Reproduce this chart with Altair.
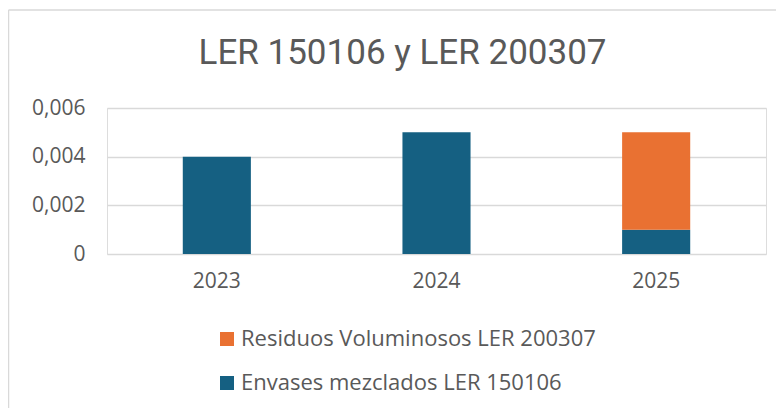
import altair as alt
import pandas as pd

years = ["2023", "2024", "2025"]
envases = [0.004, 0.005, 0.001]
residuos = [0.0, 0.0, 0.004]
series = ["Residuos Voluminosos LER 200307", "Envases mezclados LER 150106"]
colors = ["#E97132", "#156082"]

rows = []
for y, e, r in zip(years, envases, residuos):
    rows.append({"year": y, "serie": series[1], "value": e, "ord": 0})
    rows.append({"year": y, "serie": series[0], "value": r, "ord": 1})
df = pd.DataFrame(rows)

TXT = "#595959"
FONT = "Open Sans"

bars = alt.Chart(df).mark_bar().encode(
    x=alt.X("year:N", title=None,
            scale=alt.Scale(paddingInner=0.69, paddingOuter=0.345),
            axis=alt.Axis(labelAngle=0, ticks=False, domain=False, labelPadding=16,
                          labelFontSize=21, labelColor=TXT, labelFont=FONT, grid=False)),
    y=alt.Y("value:Q", title=None, stack="zero",
            scale=alt.Scale(domain=[0, 0.006], nice=False),
            axis=alt.Axis(values=[0, 0.002, 0.004, 0.006], ticks=False, domain=False,
                          labelExpr="datum.value == 0 ? '0' : replace(format(datum.value, '.3f'), '.', ',')",
                          labelPadding=22, labelFontSize=21, labelColor=TXT, labelFont=FONT,
                          gridColor="#D9D9D9", gridWidth=1.5)),
    color=alt.Color("serie:N", title=None,
                    scale=alt.Scale(domain=series, range=colors),
                    legend=alt.Legend(orient="none", legendX=109, legendY=220, direction="vertical",
                                      symbolType="square", symbolSize=196, symbolStrokeWidth=0,
                                      labelFontSize=22, labelColor=TXT, labelFont=FONT,
                                      rowPadding=22, labelOffset=3, labelLimit=600)),
    order=alt.Order("ord:Q", sort="ascending"),
)

border = alt.Chart(pd.DataFrame({"a": [0]})).mark_rule(color="#D9D9D9", strokeWidth=1.5).encode(
    x=alt.value(-98.5), y=alt.value(-98), y2=alt.value(310)
)
border_top = alt.Chart(pd.DataFrame({"a": [0]})).mark_rule(color="#D9D9D9", strokeWidth=1.5).encode(
    x=alt.value(-98.5), x2=alt.value(680), y=alt.value(-98)
)

chart = alt.layer(bars, border, border_top).properties(
    width=659, height=146,
    title=alt.TitleParams("LER 150106 y LER 200307", fontSize=35, font="Roboto",
                          fontWeight="normal", color=TXT, anchor="middle", offset=-62, dx=-34),
    padding={"left": 99, "top": 100, "right": 10, "bottom": 154},
    autosize=alt.AutoSizeParams(type="none"),
).configure_view(stroke=None).configure(background="white")

chart.save("out.html", embed_options={"renderer": "svg", "actions": False})
